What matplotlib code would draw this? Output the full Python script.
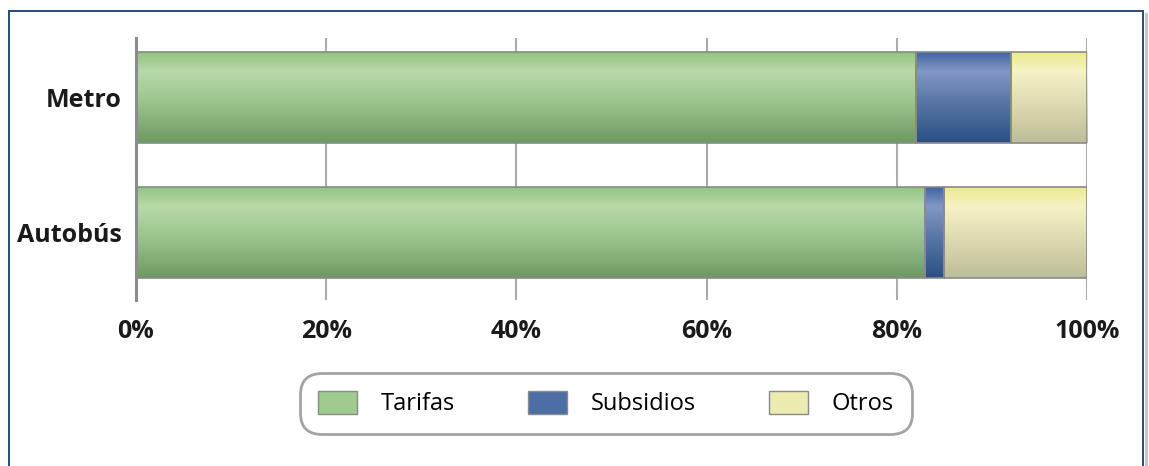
import matplotlib

matplotlib.use("Agg")

import matplotlib.pyplot as plt
import numpy as np
from matplotlib.colors import LinearSegmentedColormap
from matplotlib.patches import Rectangle

categories = ["Autobús", "Metro"]
series_names = ["Tarifas", "Subsidios", "Otros"]
tarifas = [83, 82]
subsidios = [2, 10]
otros = [15, 8]
x_ticks = [0, 20, 40, 60, 80, 100]
x_tick_labels = ["0%", "20%", "40%", "60%", "80%", "100%"]

# top, light band, lower middle, bottom
gradients = {
    "Tarifas": ["#8fc47f", "#b9d9aa", "#9cc48e", "#6d9a62"],
    "Subsidios": ["#3c62a0", "#8398c6", "#5a76a6", "#2a5083"],
    "Otros": ["#ece98a", "#f5f3c6", "#dedcb2", "#bebd9a"],
}
mid_colors = {"Tarifas": "#9fcb90", "Subsidios": "#4d6ea5", "Otros": "#ecebb0"}

plt.rcParams["font.family"] = ["Open Sans", "DejaVu Sans"]

fig = plt.figure(figsize=(11.49, 4.66), dpi=100)
ax = fig.add_axes([136 / 1149, 1 - 300 / 466, 951 / 1149, 262 / 466])

y = np.arange(len(categories))
left = np.zeros(len(categories))
bar_height = 0.674
for name, values in zip(series_names, [tarifas, subsidios, otros]):
    bars = ax.barh(y, values, left=left, height=bar_height, color="none",
                   edgecolor="#8a8a8a", linewidth=1.2, zorder=3)
    cmap = LinearSegmentedColormap.from_list(
        name, list(zip([0.0, 0.22, 0.55, 1.0], gradients[name])))
    grad = np.linspace(0, 1, 256).reshape(-1, 1)
    for bar in bars:
        x0, y0 = bar.get_x(), bar.get_y()
        w, h = bar.get_width(), bar.get_height()
        im = ax.imshow(grad, cmap=cmap, aspect="auto", zorder=2,
                       extent=(x0, x0 + w, y0 + h, y0), origin="lower",
                       interpolation="bilinear")
        im.set_clip_path(bar)
    left = left + np.array(values)

ax.set_xlim(0, 100)
ax.set_ylim(-0.5, 1.44)
ax.set_xticks(x_ticks)
ax.set_xticklabels(x_tick_labels, fontsize=18, fontweight="bold", color="#1a1a1a")
ax.set_yticks(y)
ax.set_yticklabels(categories, fontsize=18, fontweight="bold", color="#1a1a1a")
ax.tick_params(axis="both", length=0)
ax.tick_params(axis="x", pad=14)
ax.tick_params(axis="y", pad=10)
ax.grid(True, axis="x", color="#ababab", linewidth=1.5, zorder=1)
ax.set_axisbelow(True)
for side in ["top", "right", "bottom"]:
    ax.spines[side].set_visible(False)
ax.spines["left"].set_color("#8c8c8c")
ax.spines["left"].set_linewidth(2.2)
ax.spines["left"].set_zorder(4)

handles = [Rectangle((0, 0), 1, 1, facecolor=mid_colors[n], edgecolor="#8a8a8a",
                     linewidth=1) for n in series_names]
leg = fig.legend(handles, series_names, loc="center", ncol=3,
                 bbox_to_anchor=(606 / 1149, 1 - 403.5 / 466),
                 fontsize=17, frameon=True, fancybox=True,
                 handlelength=1.65, handleheight=1.15, handletextpad=1.0,
                 columnspacing=3.1, borderpad=0.75, borderaxespad=0)
frame = leg.get_frame()
frame.set_edgecolor("#8c8c8c")
frame.set_linewidth(2)
frame.set_boxstyle("round,pad=0,rounding_size=0.9")

# outer frame of the panel
fig.patches.append(Rectangle((1145 / 1149, 0), 3 / 1149, 1 - 13 / 466,
                             transform=fig.transFigure, facecolor="#c8c8c8",
                             edgecolor="none"))
fig.patches.append(Rectangle((9 / 1149, -0.05), 1134 / 1149, 1.05 - 11 / 466,
                             transform=fig.transFigure, facecolor="none",
                             edgecolor="#1f4e80", linewidth=1.4))

fig.savefig("out.png", dpi=100)
